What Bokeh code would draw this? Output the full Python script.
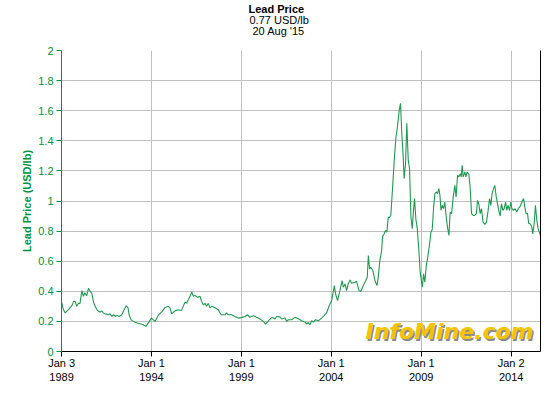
import pandas as pd
from bokeh.plotting import figure
from bokeh.models import (Range1d, FixedTicker, DatetimeTickFormatter, Title,
                          LinearAxis, Label)
from bokeh.embed import file_html
from bokeh.resources import INLINE

# decimal years
years = [
    1989.0, 1989.1, 1989.2, 1989.4, 1989.6, 1989.67, 1989.76, 1989.85, 1989.94, 1990.03,
    1990.13, 1990.22, 1990.3, 1990.4, 1990.5, 1990.6, 1990.7, 1990.78, 1990.87, 1990.96,
    1991.06, 1991.15, 1991.24, 1991.33, 1991.43, 1991.6, 1991.7, 1991.8, 1991.9, 1992.0,
    1992.1, 1992.2, 1992.35, 1992.5, 1992.6, 1992.7, 1992.76, 1992.87, 1993.0, 1993.2,
    1993.37, 1993.55, 1993.7, 1993.83, 1994.0, 1994.2, 1994.4, 1994.6, 1994.76, 1994.94,
    1995.03, 1995.13, 1995.31, 1995.5, 1995.68, 1995.77, 1995.87, 1995.96, 1996.05, 1996.15,
    1996.24, 1996.33, 1996.42, 1996.57, 1996.7, 1996.79, 1996.88, 1996.98, 1997.07, 1997.16,
    1997.25, 1997.35, 1997.53, 1997.72, 1997.81, 1997.9, 1998.09, 1998.18, 1998.27, 1998.46,
    1998.64, 1998.83, 1999.0, 1999.2, 1999.35, 1999.48, 1999.67, 1999.85, 2000.04, 2000.22,
    2000.35, 2000.5, 2000.69, 2000.87, 2000.96, 2001.15, 2001.24, 2001.43, 2001.52, 2001.61,
    2001.8, 2001.98, 2002.17, 2002.35, 2002.54, 2002.63, 2002.72, 2002.81, 2002.91, 2003.0,
    2003.13, 2003.28, 2003.46, 2003.6, 2003.74, 2003.87, 2004.02, 2004.17, 2004.24, 2004.35,
    2004.48, 2004.6, 2004.67, 2004.76, 2004.85, 2004.94, 2005.04, 2005.13, 2005.31, 2005.4,
    2005.54, 2005.65, 2005.78, 2005.9, 2006.0, 2006.06, 2006.13, 2006.2, 2006.31, 2006.43,
    2006.54, 2006.61, 2006.7, 2006.8, 2006.85, 2006.94, 2007.02, 2007.09, 2007.17, 2007.22,
    2007.31, 2007.4, 2007.5, 2007.6, 2007.68, 2007.78, 2007.85, 2007.93, 2008.0, 2008.05,
    2008.13, 2008.2, 2008.28, 2008.35, 2008.43, 2008.5, 2008.57, 2008.63, 2008.7, 2008.78,
    2008.87, 2008.94, 2008.98, 2009.06, 2009.13, 2009.2, 2009.28, 2009.35, 2009.44, 2009.54,
    2009.61, 2009.69, 2009.76, 2009.85, 2009.9, 2009.98, 2010.04, 2010.1, 2010.17, 2010.24,
    2010.31, 2010.39, 2010.46, 2010.54, 2010.61, 2010.69, 2010.78, 2010.87, 2010.94, 2011.02,
    2011.09, 2011.17, 2011.22, 2011.28, 2011.33, 2011.43, 2011.48, 2011.56, 2011.65, 2011.72,
    2011.8, 2011.89, 2011.98, 2012.07, 2012.13, 2012.2, 2012.28, 2012.35, 2012.44, 2012.54,
    2012.63, 2012.72, 2012.8, 2012.87, 2012.94, 2013.02, 2013.09, 2013.17, 2013.24, 2013.31,
    2013.39, 2013.46, 2013.54, 2013.61, 2013.69, 2013.76, 2013.83, 2013.91, 2013.98, 2014.04,
    2014.13, 2014.22, 2014.31, 2014.4, 2014.5, 2014.6, 2014.69, 2014.76, 2014.83, 2014.91,
    2014.98, 2015.06, 2015.15, 2015.2, 2015.28, 2015.35, 2015.43, 2015.5, 2015.63,
]
# lead price, USD/lb
prices = [
    0.33, 0.28, 0.256, 0.28, 0.31, 0.333, 0.333, 0.30, 0.32, 0.32,
    0.404, 0.367, 0.39, 0.37, 0.42, 0.40, 0.38, 0.33, 0.30, 0.28,
    0.267, 0.262, 0.27, 0.256, 0.25, 0.244, 0.25, 0.233, 0.244, 0.233,
    0.24, 0.233, 0.244, 0.28, 0.304, 0.29, 0.244, 0.21, 0.2, 0.19,
    0.184, 0.178, 0.167, 0.19, 0.222, 0.2, 0.244, 0.267, 0.293, 0.30,
    0.29, 0.25, 0.27, 0.278, 0.273, 0.3, 0.33, 0.32, 0.344, 0.367,
    0.396, 0.367, 0.373, 0.36, 0.367, 0.333, 0.31, 0.32, 0.30, 0.32,
    0.29, 0.30, 0.29, 0.278, 0.256, 0.244, 0.244, 0.256, 0.244, 0.244,
    0.233, 0.222, 0.225, 0.233, 0.244, 0.227, 0.238, 0.227, 0.216, 0.2,
    0.182, 0.204, 0.227, 0.216, 0.233, 0.23, 0.216, 0.222, 0.2, 0.211,
    0.211, 0.227, 0.218, 0.204, 0.196, 0.182, 0.193, 0.178, 0.204, 0.196,
    0.211, 0.204, 0.222, 0.238, 0.256, 0.30, 0.338, 0.438, 0.382, 0.338,
    0.404, 0.471, 0.427, 0.449, 0.404, 0.449, 0.476, 0.453, 0.46, 0.467,
    0.404, 0.4, 0.438, 0.467, 0.493, 0.638, 0.549, 0.56, 0.538, 0.471,
    0.438, 0.493, 0.604, 0.671, 0.764, 0.782, 0.804, 0.793, 0.893, 0.889,
    0.904, 1.071, 1.27, 1.427, 1.493, 1.604, 1.649, 1.427, 1.293, 1.149,
    1.249, 1.516, 1.271, 1.216, 0.893, 0.816, 0.938, 1.016, 0.882, 0.816,
    0.671, 0.527, 0.493, 0.427, 0.516, 0.46, 0.571, 0.616, 0.693, 0.793,
    0.809, 0.96, 1.049, 1.06, 1.049, 1.082, 1.038, 0.938, 0.971, 0.949,
    0.993, 0.893, 0.827, 0.771, 0.927, 0.916, 1.027, 1.104, 1.027, 1.171,
    1.16, 1.182, 1.16, 1.238, 1.16, 1.193, 1.16, 1.193, 1.178, 1.093,
    0.916, 0.904, 0.904, 0.916, 1.004, 0.982, 0.916, 0.949, 0.86, 0.844,
    0.86, 0.938, 1.016, 0.971, 1.049, 1.082, 1.104, 1.027, 0.982, 0.938,
    0.9, 0.982, 0.938, 0.949, 0.993, 0.938, 0.971, 0.938, 0.993, 0.95,
    0.938, 0.949, 0.927, 0.949, 0.964, 0.993, 1.016, 0.96, 0.916, 0.916,
    0.849, 0.849, 0.827, 0.782, 0.849, 0.971, 0.871, 0.816, 0.771,
]
tick_dates = ["1989-01-03", "1994-01-01", "1999-01-01", "2004-01-01", "2009-01-01", "2014-01-02"]
y_ticks = [0, 0.2, 0.4, 0.6, 0.8, 1, 1.2, 1.4, 1.6, 1.8, 2]
start_date, end_date = "1989-01-01", "2015-08-20"
title_lines = ["Lead Price", "0.77 USD/lb", "20 Aug '15"]

def to_date(y):
    yr = int(y)
    base = pd.Timestamp(year=yr, month=1, day=1)
    nxt = pd.Timestamp(year=yr + 1, month=1, day=1)
    return base + (nxt - base) * (y - yr)

dates = [to_date(y) for y in years]

GREEN_AXIS = "#00933c"
GREEN_LINE = "#1f9a50"
GRID = "#c0c0c0"
FONT = "Liberation Sans"

p = figure(width=552, height=392, output_backend="svg", toolbar_location=None,
           x_axis_type="datetime", title=None,
           x_range=Range1d(pd.Timestamp(start_date), pd.Timestamp(end_date)),
           y_range=Range1d(0, 2),
           min_border_left=61, min_border_right=12, min_border_top=50, min_border_bottom=41)
p.outline_line_color = None
p.background_fill_color = "white"
p.border_fill_color = "white"

p.line(dates, prices, line_color=GREEN_LINE, line_width=1.1)

# x axis
xa = p.xaxis[0]
xa.ticker = FixedTicker(ticks=[pd.Timestamp(d).value / 1e6 for d in tick_dates])
xa.formatter = DatetimeTickFormatter(years="%b %-d\n%Y", months="%b %-d\n%Y",
                                     days="%b %-d\n%Y")
xa.axis_line_color = "black"
xa.major_tick_line_color = "black"
xa.major_tick_out = 5
xa.major_tick_in = 0
xa.minor_tick_line_color = None
xa.major_label_text_font = FONT
xa.major_label_text_font_size = "11px"
xa.major_label_text_color = "black"
xa.major_label_standoff = 0

# y axis
ya = p.yaxis[0]
ya.ticker = FixedTicker(ticks=y_ticks)
ya.major_label_overrides = {t: f"{t:g}" for t in y_ticks}
ya.axis_line_color = GREEN_AXIS
ya.major_tick_line_color = GREEN_AXIS
ya.major_tick_out = 5
ya.major_tick_in = 0
ya.minor_tick_line_color = None
ya.major_label_text_font = FONT
ya.major_label_text_font_size = "11px"
ya.major_label_text_color = GREEN_AXIS
ya.major_label_standoff = 3
ya.axis_label = "Lead Price (USD/lb)"
ya.axis_label_text_font = FONT
ya.axis_label_text_font_size = "11px"
ya.axis_label_text_font_style = "bold"
ya.axis_label_text_color = GREEN_AXIS
ya.axis_label_standoff = 2

# right border
ra = LinearAxis(ticker=FixedTicker(ticks=[]), axis_line_color="black",
                major_tick_line_color=None, minor_tick_line_color=None,
                major_label_text_font_size="0px")
p.add_layout(ra, "right")

p.xgrid.grid_line_color = GRID
p.ygrid.grid_line_color = GRID
p.xgrid.ticker = xa.ticker
p.ygrid.ticker = ya.ticker

# spacer between frame and title block (first added is nearest the plot)
p.add_layout(Title(text=" ", text_font_size="11px", standoff=-1), "above")
# three-line title, centred on the canvas
for txt, style, so, off in [(title_lines[2], "normal", -3, 191),
                            (title_lines[1], "normal", -3, 188),
                            (title_lines[0], "bold", -2, 187)]:
    p.add_layout(Title(text=txt, align="left", vertical_align="top", text_font=FONT,
                       text_font_size="11px", text_font_style=style, text_color="black",
                       standoff=so, offset=off), "above")

# watermark logo
for dx, dy, col in [(1.5, -1.5, "#8a8a8a"), (0, 0, "#f5c400")]:
    p.add_layout(Label(x=pd.Timestamp(end_date), y=0.13, x_offset=-7 + dx, y_offset=dy,
                       text="InfoMine.com", text_align="right", text_baseline="alphabetic",
                       text_font="DejaVu Sans", text_font_size="22px",
                       text_font_style="bold italic", text_color=col))

open("out.html", "w").write(file_html(p, INLINE))
